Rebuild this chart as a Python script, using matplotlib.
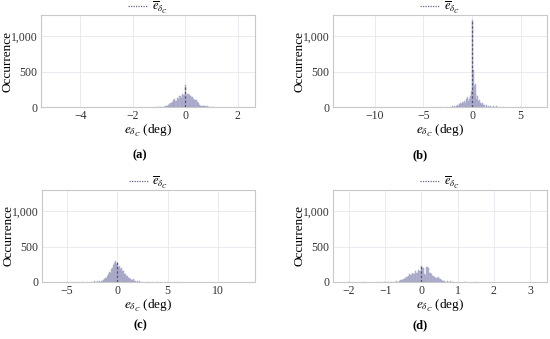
import matplotlib
matplotlib.use("Agg")
import matplotlib.pyplot as plt
from matplotlib.ticker import FuncFormatter

plt.rcParams['font.family'] = ['Liberation Serif', 'DejaVu Serif']
plt.rcParams['mathtext.fontset'] = 'stix'

# ---- data (bin centers and counts) ----
a_centers = [-1.15, -1.05, -1.00, -0.95, -0.90, -0.85, -0.80, -0.75, -0.70, -0.65, -0.60, -0.55,
             -0.50, -0.45, -0.40, -0.35, -0.30, -0.25, -0.20, -0.15, -0.10, -0.05, 0.00, 0.05,
             0.10, 0.15, 0.20, 0.25, 0.30, 0.35, 0.40, 0.45, 0.50, 0.55, 0.60, 0.65, 0.70,
             0.75, 0.80, 0.85, 0.90, 0.95, 1.00, 1.05]
a_counts = [2, 3, 2, 4, 3, 5, 6, 10, 14, 25, 40, 60,
            75, 95, 110, 90, 130, 115, 150, 125, 190, 165, 310, 170,
            190, 175, 160, 140, 120, 100, 95, 70, 55, 35, 20, 12, 8,
            15, 6, 10, 4, 3, 2, 1]
a_width = 0.05
a_mean = 0.0

b_centers = [-4.0, -3.6, -3.2, -2.8, -2.5, -2.2, -2.0, -1.8, -1.6, -1.5, -1.4, -1.3, -1.2, -1.1,
             -1.0, -0.9, -0.8, -0.7, -0.6, -0.5, -0.4, -0.3, -0.2, -0.1, 0.0, 0.1, 0.2, 0.3,
             0.4, 0.5, 0.6, 0.7, 0.8, 0.9, 1.0, 1.1, 1.2, 1.3, 1.5, 1.7, 1.9, 2.2, 2.5, 2.8,
             3.2, 3.6, 4.0, 4.5, 5.0, 5.5, 6.0]
b_counts = [3, 2, 4, 3, 5, 6, 8, 10, 15, 30, 20, 40, 60, 45,
            70, 50, 90, 60, 110, 140, 80, 120, 160, 220, 1230, 520, 300, 330,
            180, 120, 150, 80, 100, 60, 40, 55, 30, 35, 25, 20, 15, 10, 8, 6,
            5, 4, 3, 3, 2, 2, 1]
b_width = 0.1
b_mean = 0.0

c_centers = [-5.0, -4.0, -3.5, -3.0, -2.6, -2.3, -2.0, -1.8, -1.6, -1.5, -1.4, -1.3, -1.2, -1.1,
             -1.0, -0.9, -0.8, -0.7, -0.6, -0.5, -0.4, -0.3, -0.2, -0.1, 0.0, 0.1, 0.2, 0.3,
             0.4, 0.5, 0.6, 0.7, 0.8, 0.9, 1.0, 1.1, 1.2, 1.3, 1.4, 1.5, 1.6, 1.7, 1.8, 2.0,
             2.2, 2.5, 3.0, 3.5, 4.0, 5.0, 6.0]
c_counts = [5, 2, 3, 4, 5, 8, 10, 12, 18, 20, 30, 45, 60, 55,
            90, 110, 140, 130, 180, 200, 240, 270, 290, 260, 250, 210, 220, 180,
            200, 150, 160, 120, 110, 80, 90, 60, 50, 45, 30, 25, 40, 15, 12, 10,
            8, 6, 4, 3, 2, 2, 1]
c_width = 0.1
c_mean = 0.0

d_centers = [-2.0, -1.6, -1.2, -1.0, -0.92, -0.84, -0.76, -0.68, -0.60, -0.56, -0.52, -0.48,
             -0.44, -0.40, -0.36, -0.32, -0.28, -0.24, -0.20, -0.16, -0.12, -0.08, -0.04, 0.00,
             0.04, 0.08, 0.12, 0.16, 0.20, 0.24, 0.28, 0.32, 0.36, 0.40, 0.44, 0.48, 0.52,
             0.56, 0.60, 0.64, 0.72, 0.80, 0.88, 1.0, 1.2, 1.5]
d_counts = [2, 2, 3, 4, 3, 5, 6, 10, 15, 25, 35, 45,
            60, 70, 90, 110, 100, 130, 120, 150, 130, 170, 150, 220,
            200, 120, 100, 210, 200, 130, 110, 90, 70, 60, 55, 70, 40,
            25, 15, 10, 8, 15, 6, 3, 2, 2]
d_width = 0.04
d_mean = 0.0

panels = [
    dict(c=a_centers, n=a_counts, w=a_width, m=a_mean, xlim=(-5.49, 2.65), xt=[-4, -2, 0, 2], lab='(a)'),
    dict(c=b_centers, n=b_counts, w=b_width, m=b_mean, xlim=(-14.3, 7.7), xt=[-10, -5, 0, 5], lab='(b)'),
    dict(c=c_centers, n=c_counts, w=c_width, m=c_mean, xlim=(-7.5, 13.7), xt=[-5, 0, 5, 10], lab='(c)'),
    dict(c=d_centers, n=d_counts, w=d_width, m=d_mean, xlim=(-2.44, 3.47), xt=[-2, -1, 0, 1, 2, 3], lab='(d)'),
]

W, H = 550, 339
fig = plt.figure(figsize=(5.5, 3.39), dpi=100)

# axes boxes in pixels: left, top, right, bottom
boxes = [(41, 15, 255, 107), (333, 15, 547, 107), (42, 190, 255, 282), (333, 190, 547, 282)]
cap_pos = [(140, 155), (420, 155), (140, 325), (420, 325)]

bar_color = '#b4b4d0'
mean_color = '#555577'
spine_color = '#c8c8c8'

for p, (l, t, r, b), (cx, cy) in zip(panels, boxes, cap_pos):
    ax = fig.add_axes([l / W, 1 - b / H, (r - l) / W, (b - t) / H])
    ax.bar(p['c'], p['n'], width=p['w'], color=bar_color, edgecolor='#a0a0c4', linewidth=0.3, zorder=2)
    ax.vlines(p['m'], 0, max(p['n']), colors=mean_color, linestyles=(0, (2, 1.5)), linewidth=0.9, zorder=3)
    ax.set_xlim(*p['xlim'])
    ax.set_ylim(0, 1300)
    ax.set_xticks(p['xt'])
    ax.set_yticks([0, 500, 1000])
    ax.yaxis.set_major_formatter(FuncFormatter(lambda v, pos: f"{int(v):,}"))
    ax.grid(True, color='#e6e6ee', linewidth=0.6, zorder=0)
    ax.set_axisbelow(True)
    for s in ax.spines.values():
        s.set_color(spine_color)
        s.set_linewidth(0.8)
    ax.tick_params(length=0, labelsize=8.5, colors='#333333', pad=2.5)
    ax.set_ylabel('Occurrence', fontsize=9.5)
    ax.yaxis.set_label_coords(-0.13, 0.5)
    ax.set_xlabel(r'$e_{\delta_C}$ (deg)', fontsize=9.5, labelpad=0.5)
    ax.plot([], [], linestyle=(0, (1, 1)), color='#666688', linewidth=0.9, label=r'$\overline{e}_{\delta_C}$')
    ax.legend(loc='center', bbox_to_anchor=(0.5, 1 + 7.5 / (b - t)), frameon=False, fontsize=9,
              handlelength=1.6, handletextpad=0.3, borderpad=0.0, borderaxespad=0.0)
    fig.text(cx / W, 1 - cy / H, p['lab'], ha='center', va='center', fontsize=9, fontweight='bold')

fig.savefig('out.png', dpi=100)
